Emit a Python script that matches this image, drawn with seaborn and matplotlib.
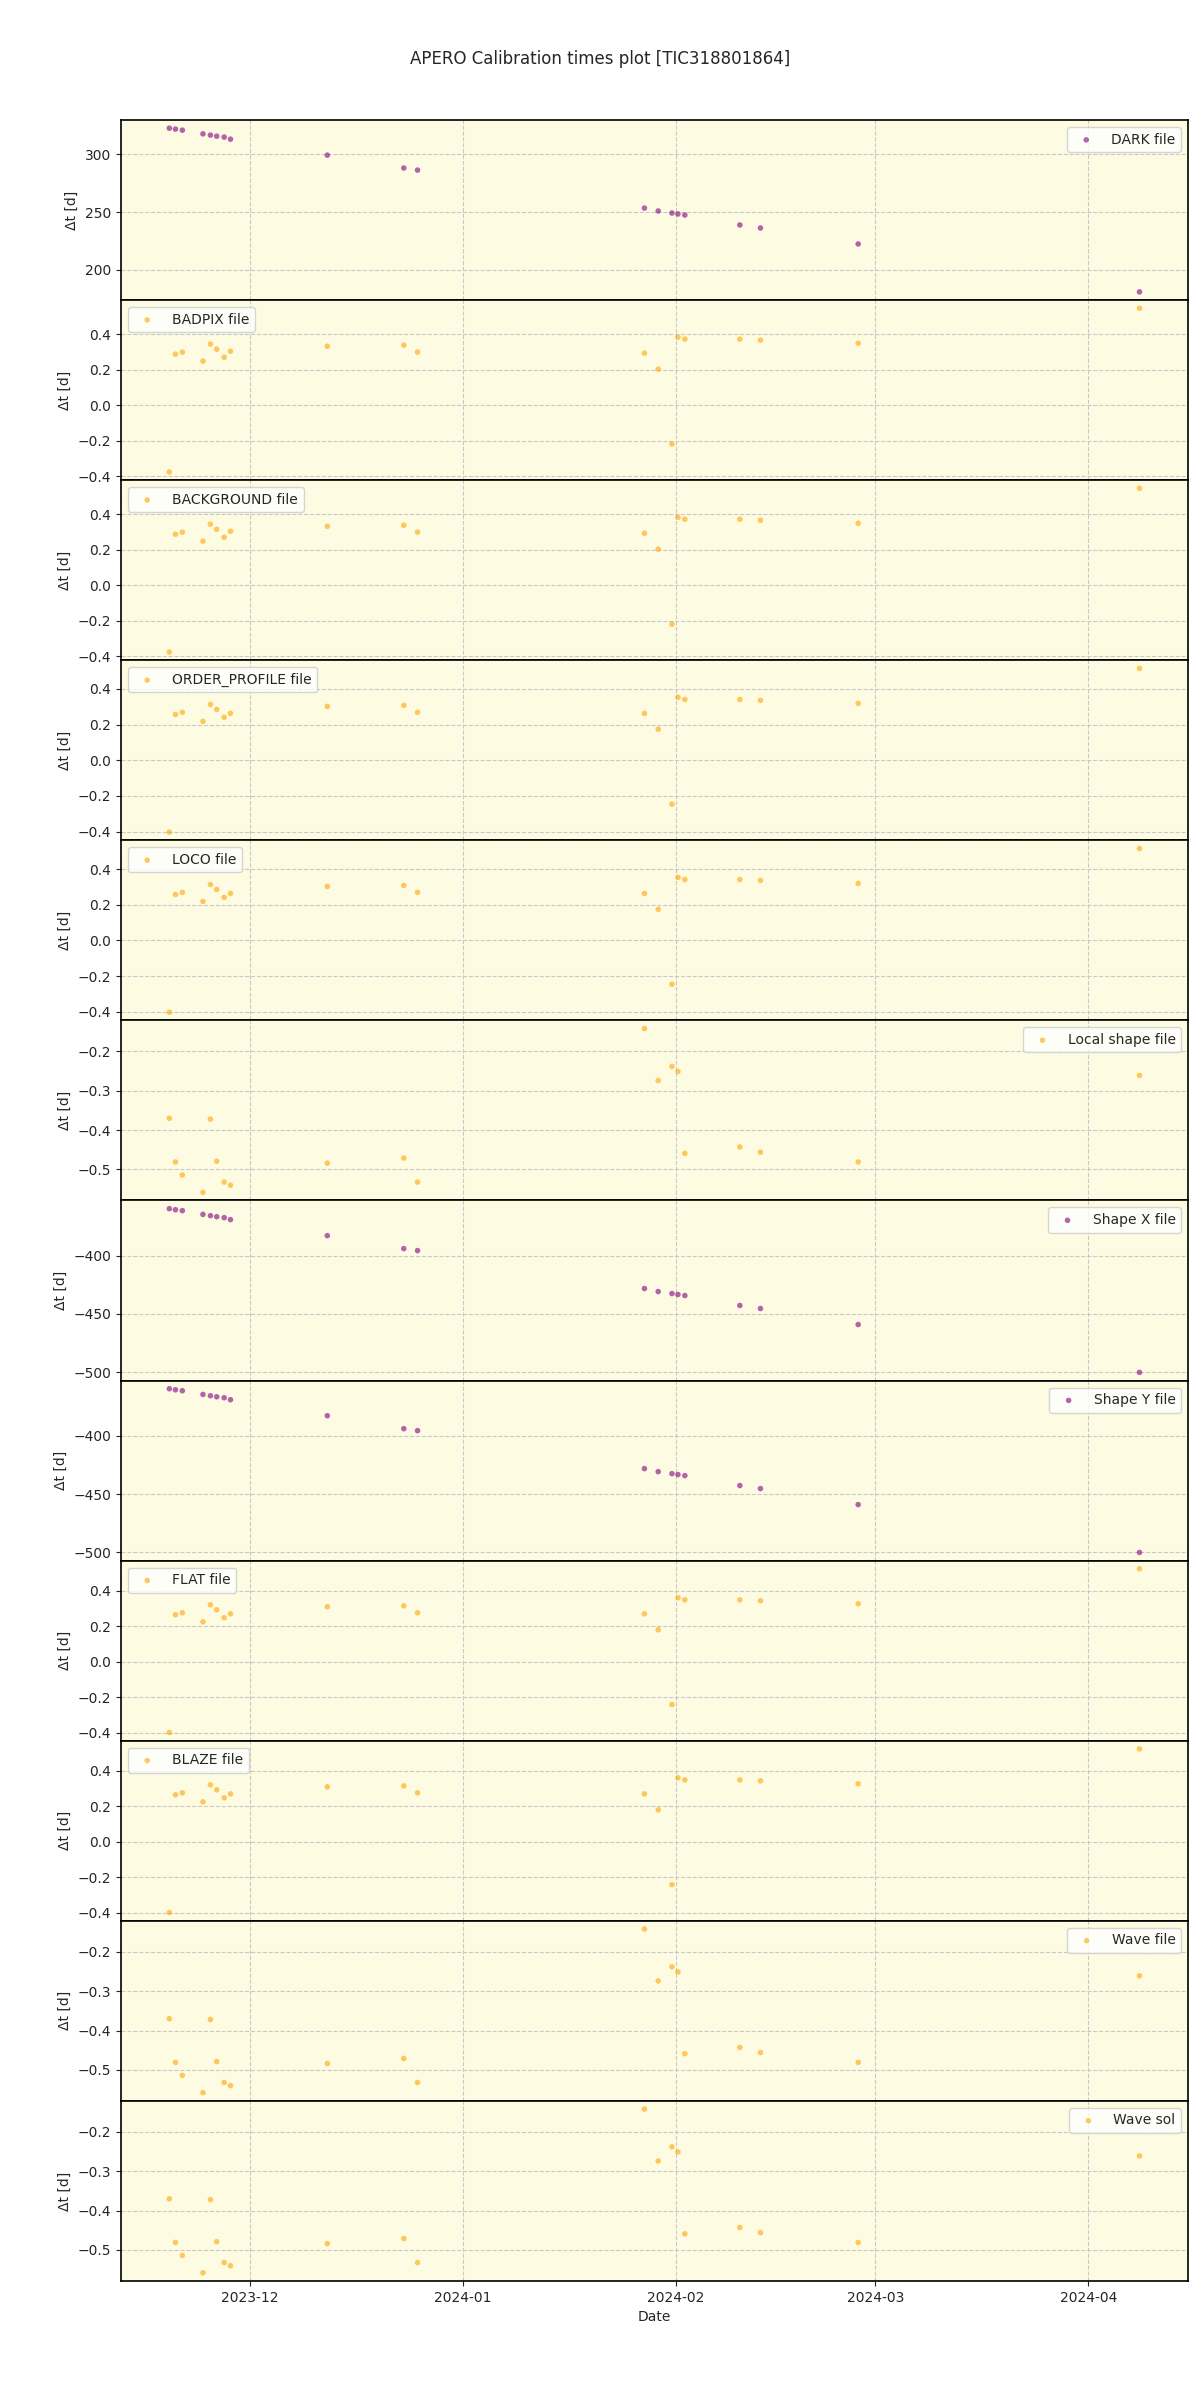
import matplotlib
matplotlib.use("Agg")
import matplotlib.pyplot as plt
import matplotlib.dates as mdates
import seaborn as sns
import pandas as pd
import numpy as np

obs_dates = ["2023-11-19 07:40", "2023-11-20 05:00", "2023-11-21 05:00", "2023-11-24 05:00",
             "2023-11-25 07:00", "2023-11-26 05:00", "2023-11-27 07:00", "2023-11-28 05:00",
             "2023-12-12 07:00", "2023-12-23 10:00", "2023-12-25 10:00", "2024-01-27 10:00",
             "2024-01-29 10:00", "2024-01-31 10:00", "2024-02-01 07:00", "2024-02-02 07:00",
             "2024-02-10 07:00", "2024-02-13 07:00", "2024-02-27 12:00", "2024-04-08 10:00"]

dark_dt = [322.4, 321.6, 320.7, 317.5, 316.4, 315.5, 314.7, 312.9, 299.1, 288.0,
           286.2, 253.4, 250.9, 249.1, 248.3, 247.4, 238.8, 236.2, 222.4, 181.0]
badpix_dt = [-0.377, 0.287, 0.299, 0.248, 0.344, 0.315, 0.270, 0.304, 0.332, 0.338,
             0.299, 0.293, 0.203, -0.220, 0.383, 0.372, 0.372, 0.366, 0.349, 0.546]
background_dt = [-0.377, 0.287, 0.299, 0.248, 0.344, 0.315, 0.270, 0.304, 0.332, 0.338,
                 0.299, 0.293, 0.203, -0.220, 0.383, 0.372, 0.372, 0.366, 0.349, 0.546]
order_profile_dt = [-0.403, 0.257, 0.269, 0.218, 0.313, 0.285, 0.241, 0.263, 0.302, 0.308,
                    0.269, 0.263, 0.174, -0.246, 0.353, 0.341, 0.341, 0.336, 0.319, 0.515]
loco_dt = [-0.403, 0.257, 0.269, 0.218, 0.313, 0.285, 0.241, 0.263, 0.302, 0.308,
           0.269, 0.263, 0.174, -0.246, 0.353, 0.341, 0.341, 0.336, 0.319, 0.515]
local_shape_dt = [-0.370, -0.481, -0.514, -0.558, -0.372, -0.479, -0.532, -0.540, -0.484, -0.471,
                  -0.532, -0.142, -0.274, -0.238, -0.251, -0.459, -0.443, -0.456, -0.481, -0.261]
shape_x_dt = [-359.8, -360.7, -361.5, -364.7, -365.8, -366.7, -367.5, -369.2, -382.9, -394.0,
              -395.7, -428.2, -430.8, -432.5, -433.3, -434.2, -442.7, -445.3, -459.0, -500.0]
shape_y_dt = [-359.8, -360.7, -361.5, -364.7, -365.8, -366.7, -367.5, -369.2, -382.9, -394.0,
              -395.7, -428.2, -430.8, -432.5, -433.3, -434.2, -442.7, -445.3, -459.0, -500.0]
flat_dt = [-0.400, 0.265, 0.276, 0.225, 0.321, 0.293, 0.248, 0.270, 0.310, 0.315,
           0.276, 0.270, 0.180, -0.242, 0.361, 0.349, 0.349, 0.344, 0.327, 0.524]
blaze_dt = [-0.400, 0.265, 0.276, 0.225, 0.321, 0.293, 0.248, 0.270, 0.310, 0.315,
            0.276, 0.270, 0.180, -0.242, 0.361, 0.349, 0.349, 0.344, 0.327, 0.524]
wave_file_dt = [-0.370, -0.481, -0.514, -0.558, -0.372, -0.479, -0.532, -0.540, -0.484, -0.471,
                -0.532, -0.142, -0.274, -0.238, -0.251, -0.459, -0.443, -0.456, -0.481, -0.261]
wave_sol_dt = [-0.370, -0.481, -0.514, -0.558, -0.372, -0.479, -0.532, -0.540, -0.484, -0.471,
               -0.532, -0.142, -0.274, -0.238, -0.251, -0.459, -0.443, -0.456, -0.481, -0.261]

labels = ["DARK file", "BADPIX file", "BACKGROUND file", "ORDER_PROFILE file", "LOCO file",
          "Local shape file", "Shape X file", "Shape Y file", "FLAT file", "BLAZE file",
          "Wave file", "Wave sol"]
series = [dark_dt, badpix_dt, background_dt, order_profile_dt, loco_dt, local_shape_dt,
          shape_x_dt, shape_y_dt, flat_dt, blaze_dt, wave_file_dt, wave_sol_dt]
colors = ["purple", "orange", "orange", "orange", "orange", "orange",
          "purple", "purple", "orange", "orange", "orange", "orange"]
legend_locs = ["upper right", "upper left", "upper left", "upper left", "upper left", "upper right",
               "upper right", "upper right", "upper left", "upper left", "upper right", "upper right"]

sns.set_style("white")
plt.rcParams["font.family"] = ["DejaVu Sans"]

dates = pd.to_datetime(obs_dates)
fig, axes = plt.subplots(len(labels), 1, figsize=(12, 24), dpi=100, sharex=True)
fig.subplots_adjust(left=0.1007, right=0.990, top=0.950, bottom=0.0496, hspace=0)

for ax, lab, vals, col, loc in zip(axes, labels, series, colors, legend_locs):
    df = pd.DataFrame({"date": dates, "dt": vals})
    sns.scatterplot(data=df, x="date", y="dt", ax=ax, color=col, alpha=0.6, s=16,
                    edgecolor="none", label=lab)
    ax.set_facecolor("#fdfbe2")
    ax.grid(True, linestyle="--", color="#c8c8c8", linewidth=0.8)
    ax.set_ylabel("Δt [d]", fontsize=10)
    ax.set_xlabel("")
    ax.legend(loc=loc, fontsize=10)
    for sp in ax.spines.values():
        sp.set_color("black")
        sp.set_linewidth(1.2)
    ax.tick_params(axis="both", which="both", length=3.5, direction="out", left=True, bottom=True,
                   labelsize=10)

axes[-1].set_xlabel("Date", fontsize=10)
axes[-1].xaxis.set_major_locator(mdates.MonthLocator())
axes[-1].xaxis.set_major_formatter(mdates.DateFormatter("%Y-%m"))
fig.suptitle("APERO Calibration times plot [TIC318801864]", fontsize=12, y=0.979)

fig.savefig("out.png", dpi=100)
